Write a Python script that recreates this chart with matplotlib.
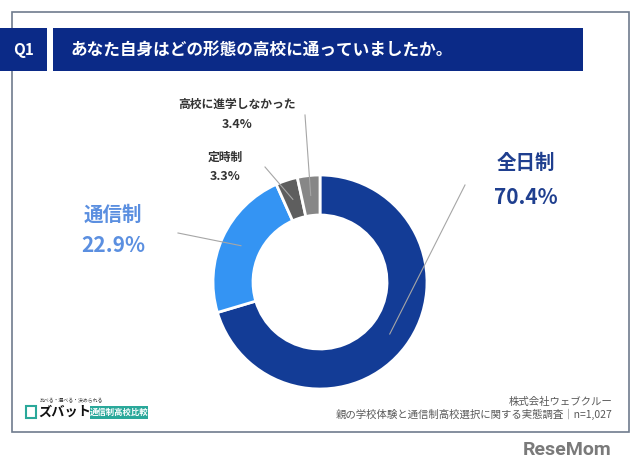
import matplotlib
matplotlib.use("Agg")
import matplotlib.pyplot as plt
import matplotlib.patches as mpatches
import numpy as np

plt.rcParams['font.family'] = ['Noto Sans CJK JP', 'DejaVu Sans']

categories = ["全日制", "通信制", "定時制", "高校に進学しなかった"]
values = [70.4, 22.9, 3.3, 3.4]
labels_pct = ["70.4%", "22.9%", "3.3%", "3.4%"]
colors = ["#133c96", "#3494f3", "#5e5e5e", "#878787"]
title = "あなた自身はどの形態の高校に通っていましたか。"
source1 = "株式会社ウェブクルー"
source2 = "親の学校体験と通信制高校選択に関する実態調査｜n=1,027"

W, H = 640, 476
fig = plt.figure(figsize=(6.4, 4.76), dpi=100)
ax = fig.add_axes([0, 0, 1, 1])
ax.set_xlim(0, W)
ax.set_ylim(0, H)
ax.axis('off')

def Y(y):
    return H - y

# frame
ax.add_patch(mpatches.Rectangle((12, Y(432)), 617, 420, fill=False,
                                edgecolor="#6f7c8e", linewidth=1.2))
# Q1 box and title bar
ax.add_patch(mpatches.Rectangle((0, Y(71)), 47, 43, facecolor="#0b2a87", edgecolor="none"))
ax.add_patch(mpatches.Rectangle((53, Y(71)), 530, 43, facecolor="#0b2a87", edgecolor="none"))
ax.text(24, Y(49.5), "Q1", color="white", fontsize=11, fontweight="bold",
        ha="center", va="center")
ax.text(70, Y(49.5), title, color="white", fontsize=12, fontweight="bold",
        ha="left", va="center")

# donut
cx, cy, R, w = 320, Y(282), 107, 40
wedges, _ = ax.pie(values, colors=colors, startangle=90, counterclock=False,
                   radius=R, center=(cx, cy),
                   wedgeprops=dict(width=w, edgecolor="white", linewidth=2))
ax.set_xlim(0, W)
ax.set_ylim(0, H)
ax.set_aspect('auto')

label_pos = [(526, 163, 197), (113, 215, 245), (225, 157, 177), (237, 104, 124)]
line_end = [(465, 185), (178, 233), (265, 167), (305, 115)]
label_colors = ["#1f3f8f", "#5b8fe0", "#333333", "#333333"]
sizes = [14, 14, 8.5, 8.5]

for wdg, cat, pct, (lx, ly1, ly2), (ex, ey), lc, fs in zip(
        wedges, categories, labels_pct, label_pos, line_end, label_colors, sizes):
    ang = np.deg2rad((wdg.theta1 + wdg.theta2) / 2)
    rr = R - w / 2
    px, py = cx + rr * np.cos(ang), cy + rr * np.sin(ang)
    ax.plot([px, ex], [py, Y(ey)], color="#a6a6a6", linewidth=0.8)
    ax.text(lx, Y(ly1), cat, color=lc, fontsize=fs, fontweight="bold",
            ha="center", va="center")
    ax.text(lx, Y(ly2), pct, color=lc, fontsize=fs + (1 if fs > 10 else 0.5),
            fontweight="bold", ha="center", va="center")

# footer source
ax.text(612, Y(402), source1, color="#595959", fontsize=7.5, ha="right", va="center")
ax.text(612, Y(414), source2, color="#595959", fontsize=7.5, ha="right", va="center")

# logo
ax.add_patch(mpatches.Rectangle((26, Y(418)), 10, 12, facecolor="none",
                                edgecolor="#2aa89a", linewidth=1.5))
ax.text(40, Y(401), "比べる・選べる・決められる", color="#333333", fontsize=3.5,
        ha="left", va="center")
ax.text(38, Y(412), "ズバット", color="#111111", fontsize=9.5, fontweight="bold",
        ha="left", va="center")
ax.add_patch(mpatches.Rectangle((90, Y(419)), 58, 13, facecolor="#2aa89a", edgecolor="none"))
ax.text(119, Y(412.5), "通信制高校比較", color="white", fontsize=6, fontweight="bold",
        ha="center", va="center")

# watermark
ax.text(612, Y(450), "ReseMom", color="#7a7a7a", fontsize=14, fontweight="bold",
        ha="right", va="center", family="Roboto")

fig.savefig("out.png", dpi=100)
